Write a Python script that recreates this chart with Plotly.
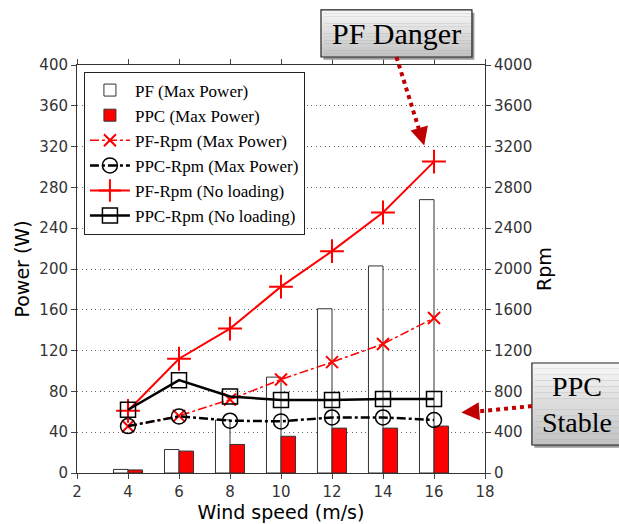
import plotly.graph_objects as go

# ---- data ----
wind_speed = [4, 6, 8, 10, 12, 14, 16]
pf_power_max = [3.5, 23, 52, 94, 161, 203, 268]
ppc_power_max = [3, 21.5, 28, 36, 44, 44, 46]
pf_rpm_max = [458, 560, 720, 917, 1087, 1265, 1520]
ppc_rpm_max = [460, 555, 513, 506, 545, 545, 520]
pf_rpm_noload = [610, 1120, 1416, 1827, 2175, 2554, 3053]
ppc_rpm_noload = [620, 910, 750, 715, 715, 725, 725]

x_ticks = [2, 4, 6, 8, 10, 12, 14, 16, 18]
power_ticks = list(range(0, 401, 40))
rpm_ticks = list(range(0, 4001, 400))

SERIF = "Liberation Serif, Times New Roman, serif"
SANS = "DejaVu Sans, Arial, sans-serif"
DARKRED = "#c00000"

fig = go.Figure()
fig.add_trace(go.Bar(x=wind_speed, y=pf_power_max, name="PF (Max Power)",
                     width=0.57, offset=-0.57,
                     marker=dict(color="white", line=dict(color="#333333", width=1))))
fig.add_trace(go.Bar(x=wind_speed, y=ppc_power_max, name="PPC (Max Power)",
                     width=0.57, offset=0,
                     marker=dict(color="#ff0000", line=dict(color="#333333", width=1))))
fig.add_trace(go.Scatter(x=wind_speed, y=pf_rpm_max, yaxis="y2", name="PF-Rpm (Max Power)",
                         mode="lines+markers",
                         line=dict(color="#ff0000", width=1.5, dash="dashdot"),
                         marker=dict(symbol="x-thin", size=12, line=dict(color="#ff0000", width=2))))
fig.add_trace(go.Scatter(x=wind_speed, y=ppc_rpm_max, yaxis="y2", name="PPC-Rpm (Max Power)",
                         mode="lines+markers",
                         line=dict(color="black", width=2.5, dash="dashdot"),
                         marker=dict(symbol="circle-open", size=15, color="black",
                                     line=dict(color="black", width=1.5))))
fig.add_trace(go.Scatter(x=wind_speed, y=pf_rpm_noload, yaxis="y2", name="PF-Rpm (No loading)",
                         mode="lines+markers",
                         line=dict(color="#ff0000", width=2),
                         marker=dict(symbol="cross-thin", size=17, line=dict(color="#ff0000", width=2))))
fig.add_trace(go.Scatter(x=wind_speed, y=ppc_rpm_noload, yaxis="y2", name="PPC-Rpm (No loading)",
                         mode="lines+markers",
                         line=dict(color="black", width=2.5),
                         marker=dict(symbol="square-open", size=15, color="black",
                                     line=dict(color="black", width=1.5))))

# gradient boxes for callouts (paper coordinates)
def gradient_box(x0, x1, y0, y1, n=14):
    shapes = []
    shapes.append(dict(type="rect", xref="paper", yref="paper", x0=x0 + 0.006, x1=x1 + 0.006,
                       y0=y0 - 0.007, y1=y1 - 0.007, fillcolor="#9a9a9a", line=dict(width=0),
                       layer="above"))
    for i in range(n):
        t = i / (n - 1)
        c = int(246 - t * (246 - 196))
        ya = y1 - (y1 - y0) * i / n
        yb = y1 - (y1 - y0) * (i + 1) / n
        shapes.append(dict(type="rect", xref="paper", yref="paper", x0=x0, x1=x1, y0=yb, y1=ya,
                           fillcolor=f"rgb({c},{c},{c})", line=dict(width=0), layer="above"))
    shapes.append(dict(type="rect", xref="paper", yref="paper", x0=x0, x1=x1, y0=y0, y1=y1,
                       fillcolor="rgba(0,0,0,0)", line=dict(color="#222222", width=1.2),
                       layer="above"))
    return shapes

shapes = []
shapes += gradient_box(0.598, 0.968, 1.0196, 1.135)
shapes += gradient_box(1.115, 1.33, 0.0686, 0.2696)
shapes.append(dict(type="line", xref="paper", yref="paper", x0=0.783, y0=1.0196, x1=0.838, y1=0.843,
                   line=dict(color=DARKRED, width=4, dash="dot"), layer="above"))
shapes.append(dict(type="line", xref="paper", yref="paper", x0=1.115, y0=0.164, x1=0.985, y1=0.151,
                   line=dict(color=DARKRED, width=4, dash="dot"), layer="above"))

annotations = [
    dict(xref="paper", yref="paper", x=0.783, y=1.077, text="PF Danger", showarrow=False,
         font=dict(family=SERIF, size=30, color="black"), xanchor="center", yanchor="middle"),
    dict(xref="paper", yref="paper", x=1.225, y=0.169, text="PPC<br>Stable", showarrow=False,
         font=dict(family=SERIF, size=28, color="black"), xanchor="center", yanchor="middle",
         align="center"),
    dict(xref="paper", yref="paper", x=0.851, y=0.803, ax=-4, ay=-14, text="", showarrow=True,
         arrowhead=2, arrowsize=1.2, arrowwidth=3, arrowcolor=DARKRED),
    dict(xref="paper", yref="paper", x=0.942, y=0.148, ax=14, ay=-1, text="", showarrow=True,
         arrowhead=2, arrowsize=1.2, arrowwidth=3, arrowcolor=DARKRED),
]

fig.update_layout(
    width=619, height=524,
    margin=dict(l=77, r=134, t=65, b=51, pad=0, autoexpand=False),
    paper_bgcolor="white", plot_bgcolor="white",
    barmode="overlay",
    showlegend=True,
    legend=dict(x=0.017, y=0.984, xanchor="left", yanchor="top",
                bgcolor="white", bordercolor="#222222", borderwidth=1,
                font=dict(family=SERIF, size=17, color="black"),
                tracegroupgap=0, itemwidth=40),
    xaxis=dict(range=[2, 18], tickvals=x_ticks, ticks="outside", ticklen=5,
               showline=True, linecolor="#333333", linewidth=1, mirror="ticks",
               showgrid=False, zeroline=False, automargin=False,
               tickfont=dict(family=SANS, size=15, color="#333333"),
               title=dict(text="Wind speed (m/s)", font=dict(family=SANS, size=19, color="black"),
                          standoff=0)),
    yaxis=dict(range=[0, 400], tickvals=power_ticks, ticks="outside", ticklen=5,
               showline=True, linecolor="#333333", linewidth=1,
               showgrid=True, gridcolor="#666666", griddash="1px,3.5px", gridwidth=1,
               zeroline=False, automargin=False,
               tickfont=dict(family=SANS, size=15, color="#333333"),
               title=dict(text="Power (W)", font=dict(family=SANS, size=19, color="black"),
                          standoff=4)),
    yaxis2=dict(range=[0, 4000], tickvals=rpm_ticks, overlaying="y", side="right",
                ticks="outside", ticklen=5, showline=True, linecolor="#333333", linewidth=1,
                showgrid=False, zeroline=False, automargin=False,
                tickfont=dict(family=SANS, size=15, color="#333333"),
                title=dict(text="Rpm", font=dict(family=SANS, size=19, color="black"),
                           standoff=6)),
    shapes=shapes,
    annotations=annotations,
)

fig.write_html("out.html", config={"displayModeBar": False},
               post_script="document.body.style.margin='0px';document.body.style.overflow='hidden';")
